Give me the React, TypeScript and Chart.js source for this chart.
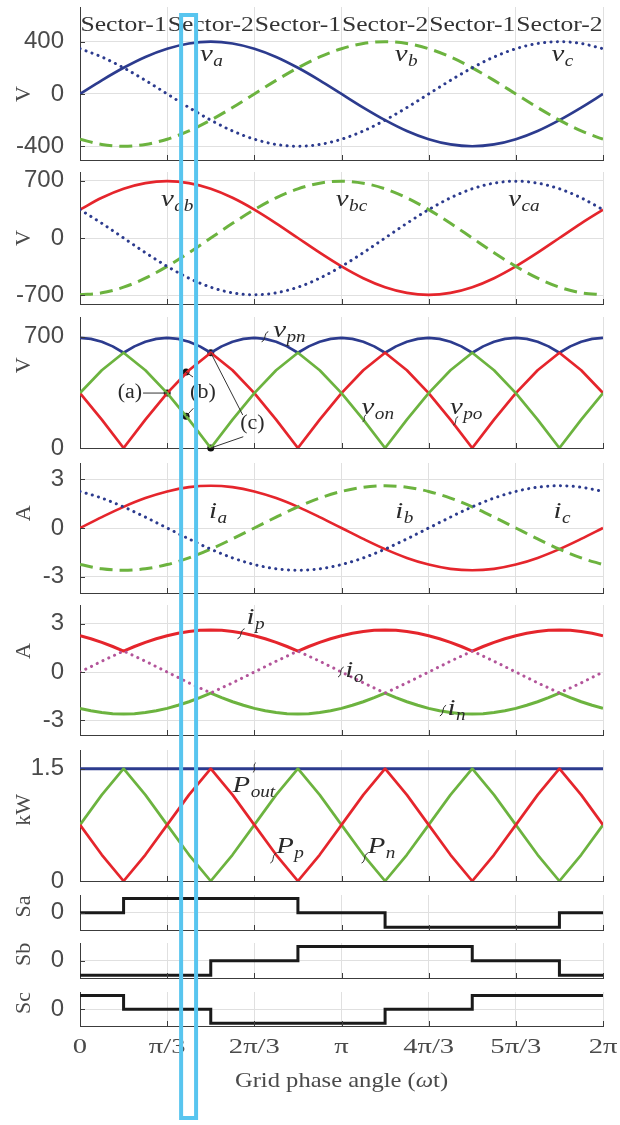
import React, { useEffect, useRef } from 'react';
import { Chart, registerables } from 'chart.js';

Chart.register(...registerables);

// ---------- shared x axis: grid phase angle in degrees, read every 15° ----------
const angleDeg = [0, 15, 30, 45, 60, 75, 90, 105, 120, 135, 150, 165, 180, 195, 210, 225, 240, 255, 270, 285, 300, 315, 330, 345, 360];
// finer reading (every 7.5°) for the rippled envelopes
const angleFine = [0, 7.5, 15, 22.5, 30, 37.5, 45, 52.5, 60, 67.5, 75, 82.5, 90, 97.5, 105, 112.5, 120, 127.5, 135, 142.5, 150, 157.5, 165, 172.5, 180, 187.5, 195, 202.5, 210, 217.5, 225, 232.5, 240, 247.5, 255, 262.5, 270, 277.5, 285, 292.5, 300, 307.5, 315, 322.5, 330, 337.5, 345, 352.5, 360];
const xTickValues = [0, 60, 120, 180, 240, 300, 360];
const xTickLabels = ['0', 'π/3', '2π/3', 'π', '4π/3', '5π/3', '2π'];
const sectorLabels = ['Sector-1', 'Sector-2', 'Sector-1', 'Sector-2', 'Sector-1', 'Sector-2'];
const sectorCenters = [30, 90, 150, 210, 270, 330];

// ---------- phase voltages (V) ----------
const va = [0, 104, 200, 283, 346, 386, 400, 386, 346, 283, 200, 104, 0, -104, -200, -283, -346, -386, -400, -386, -346, -283, -200, -104, 0];
const vb = [-346, -386, -400, -386, -346, -283, -200, -104, 0, 104, 200, 283, 346, 386, 400, 386, 346, 283, 200, 104, 0, -104, -200, -283, -346];
const vc = [346, 283, 200, 104, 0, -104, -200, -283, -346, -386, -400, -386, -346, -283, -200, -104, 0, 104, 200, 283, 346, 386, 400, 386, 346];

// ---------- line voltages (V) ----------
const vab = [346, 490, 600, 669, 693, 669, 600, 490, 346, 179, 0, -179, -346, -490, -600, -669, -693, -669, -600, -490, -346, -179, 0, 179, 346];
const vbc = [-693, -669, -600, -490, -346, -179, 0, 179, 346, 490, 600, 669, 693, 669, 600, 490, 346, 179, 0, -179, -346, -490, -600, -669, -693];
const vca = [346, 179, 0, -179, -346, -490, -600, -669, -693, -669, -600, -490, -346, -179, 0, 179, 346, 490, 600, 669, 693, 669, 600, 490, 346];

// ---------- DC-link voltages (V) ----------
const vpn = [693, 687, 669, 640, 600, 640, 669, 687, 693, 687, 669, 640, 600, 640, 669, 687, 693, 687, 669, 640, 600, 640, 669, 687, 693, 687, 669, 640, 600, 640, 669, 687, 693, 687, 669, 640, 600, 640, 669, 687, 693, 687, 669, 640, 600, 640, 669, 687, 693];
const vpo = [346, 179, 0, 179, 346, 490, 600, 490, 346, 179, 0, 179, 346, 490, 600, 490, 346, 179, 0, 179, 346, 490, 600, 490, 346];
const von = [346, 490, 600, 490, 346, 179, 0, 179, 346, 490, 600, 490, 346, 179, 0, 179, 346, 490, 600, 490, 346, 179, 0, 179, 346];
// operating points (a), (b), (c)
const opAngles = [60, 73, 73, 90, 90];
const opVoltages = [346, 478, 200, 600, 0];

// ---------- grid currents (A) ----------
const ia = [0, 0.67, 1.3, 1.84, 2.25, 2.51, 2.6, 2.51, 2.25, 1.84, 1.3, 0.67, 0, -0.67, -1.3, -1.84, -2.25, -2.51, -2.6, -2.51, -2.25, -1.84, -1.3, -0.67, 0];
const ib = [-2.25, -2.51, -2.6, -2.51, -2.25, -1.84, -1.3, -0.67, 0, 0.67, 1.3, 1.84, 2.25, 2.51, 2.6, 2.51, 2.25, 1.84, 1.3, 0.67, 0, -0.67, -1.3, -1.84, -2.25];
const ic = [2.25, 1.84, 1.3, 0.67, 0, -0.67, -1.3, -1.84, -2.25, -2.51, -2.6, -2.51, -2.25, -1.84, -1.3, -0.67, 0, 0.67, 1.3, 1.84, 2.25, 2.51, 2.6, 2.51, 2.25];

// ---------- DC-side currents (A) ----------
const ip = [2.25, 2.06, 1.84, 1.58, 1.3, 1.58, 1.84, 2.06, 2.25, 2.4, 2.51, 2.58, 2.6, 2.58, 2.51, 2.4, 2.25, 2.06, 1.84, 1.58, 1.3, 1.58, 1.84, 2.06, 2.25, 2.4, 2.51, 2.58, 2.6, 2.58, 2.51, 2.4, 2.25, 2.06, 1.84, 1.58, 1.3, 1.58, 1.84, 2.06, 2.25, 2.4, 2.51, 2.58, 2.6, 2.58, 2.51, 2.4, 2.25];
const io = [0, 0.67, 1.3, 0.67, 0, -0.67, -1.3, -0.67, 0, 0.67, 1.3, 0.67, 0, -0.67, -1.3, -0.67, 0, 0.67, 1.3, 0.67, 0, -0.67, -1.3, -0.67, 0];
const iN = [-2.25, -2.4, -2.51, -2.58, -2.6, -2.58, -2.51, -2.4, -2.25, -2.06, -1.84, -1.58, -1.3, -1.58, -1.84, -2.06, -2.25, -2.4, -2.51, -2.58, -2.6, -2.58, -2.51, -2.4, -2.25, -2.06, -1.84, -1.58, -1.3, -1.58, -1.84, -2.06, -2.25, -2.4, -2.51, -2.58, -2.6, -2.58, -2.51, -2.4, -2.25, -2.06, -1.84, -1.58, -1.3, -1.58, -1.84, -2.06, -2.25];

// ---------- powers (kW) ----------
const pOut = [1.5, 1.5, 1.5, 1.5, 1.5, 1.5, 1.5, 1.5, 1.5, 1.5, 1.5, 1.5, 1.5, 1.5, 1.5, 1.5, 1.5, 1.5, 1.5, 1.5, 1.5, 1.5, 1.5, 1.5, 1.5];
const pP = [0.75, 0.35, 0, 0.35, 0.75, 1.15, 1.5, 1.15, 0.75, 0.35, 0, 0.35, 0.75, 1.15, 1.5, 1.15, 0.75, 0.35, 0, 0.35, 0.75, 1.15, 1.5, 1.15, 0.75];
const pN = [0.75, 1.15, 1.5, 1.15, 0.75, 0.35, 0, 0.35, 0.75, 1.15, 1.5, 1.15, 0.75, 0.35, 0, 0.35, 0.75, 1.15, 1.5, 1.15, 0.75, 0.35, 0, 0.35, 0.75];

// ---------- switching states ----------
const saAngles = [0, 30, 150, 210, 330, 360];
const saStates = [0, 1, 0, -1, 0, 0];
const sbAngles = [0, 90, 150, 270, 330, 360];
const sbStates = [-1, 0, 1, 0, -1, -1];
const scAngles = [0, 30, 90, 210, 270, 360];
const scStates = [1, 0, -1, 0, 1, 1];

// highlighted interval (deg)
const highlightSpan = [69.6, 79.9];

// ---------- styles ----------
const SERIF = '"Liberation Serif", "Times New Roman", serif';
const SANS = '"Liberation Sans", Arial, sans-serif';
const BLUE = '#2c3b8e';
const GREEN = '#6cb33f';
const RED = '#e5252c';
const PINK = '#b3559a';
const BLACK = '#1a1a1a';
const AXIS = '#3c3c3c';
const GRID = '#e0e0e0';
const TEXT = '#4a4a4a';
const LABEL = '#2a2a2a';
const CYAN = '#58c5ef';

const W = 620;
const H = 1125;
const PLOT_LEFT = 80;
const PLOT_RIGHT = 603;

function pts(xs: number[], ys: number[]) {
  return xs.map((x, i) => ({ x, y: ys[i] }));
}

// smooth = true for sinusoidal waveforms, false for waveforms with sharp corners
function lineDs(data: any[], color: string, style: 'solid' | 'dash' | 'dot', width = 2.7, smooth = false) {
  return {
    data,
    borderColor: color,
    borderWidth: style === 'dot' ? 3 : width,
    pointRadius: 0,
    tension: 0,
    cubicInterpolationMode: smooth ? 'monotone' : 'default',
    fill: false,
    borderDash: style === 'dash' ? [13, 7] : style === 'dot' ? [0.1, 6.3] : [],
    borderCapStyle: style === 'dot' ? 'round' : 'butt',
    borderJoinStyle: 'round',
  };
}

function stepDs(xs: number[], ys: number[]) {
  return {
    data: pts(xs, ys),
    borderColor: BLACK,
    borderWidth: 3,
    pointRadius: 0,
    stepped: 'before',
    fill: false,
  };
}

function sText(ctx: CanvasRenderingContext2D, text: string, x: number, y: number, font: string, color: string,
  align: 'left' | 'center' | 'right', sx = 1, baseline: CanvasTextBaseline = 'alphabetic') {
  ctx.save();
  ctx.font = font;
  ctx.fillStyle = color;
  ctx.textBaseline = baseline;
  ctx.textAlign = 'left';
  const w = ctx.measureText(text).width * sx;
  const left = align === 'center' ? x - w / 2 : align === 'right' ? x - w : x;
  ctx.translate(left, y);
  ctx.scale(sx, 1);
  ctx.fillText(text, 0, 0);
  ctx.restore();
  return w;
}

function mathText(ctx: CanvasRenderingContext2D, x: number, y: number, base: string, sub: string) {
  const w = sText(ctx, base, x, y, `italic 24px ${SERIF}`, LABEL, 'left', 1.2);
  sText(ctx, sub, x + w + 0.5, y + 5, `italic 16px ${SERIF}`, LABEL, 'left', 1.2);
}

function squiggle(ctx: CanvasRenderingContext2D, x0: number, y0: number, x1: number, y1: number) {
  const dx = x1 - x0;
  const dy = y1 - y0;
  const len = Math.hypot(dx, dy) || 1;
  const nx = (-dy / len) * 3;
  const ny = (dx / len) * 3;
  ctx.save();
  ctx.strokeStyle = LABEL;
  ctx.lineWidth = 1;
  ctx.beginPath();
  ctx.moveTo(x0, y0);
  ctx.bezierCurveTo(x0 + dx * 0.33 + nx, y0 + dy * 0.33 + ny, x0 + dx * 0.66 - nx, y0 + dy * 0.66 - ny, x1, y1);
  ctx.stroke();
  ctx.restore();
}

type Lbl = { base: string; sub: string; x: number; y: number };
type PanelCfg = {
  top: number; bottom: number; min: number; max: number;
  ticks: number[]; tickText: string[];
  title: string; titleValue: number;
  datasets: any[];
  labels?: Lbl[];
  squiggles?: number[][];
  extra?: (ctx: CanvasRenderingContext2D, X: (v: number) => number, Y: (v: number) => number) => void;
};

// annotation texts of panel 3
const markerNotes = [
  { text: '(a)', x: 34.4, y: 346 },
  { text: '(b)', x: 84.6, y: 346 },
  { text: '(c)', x: 118.7, y: 155 },
];
const markerLeaders = [
  [60, 346, 43.4, 346],
  [73, 478, 77.8, 447],
  [73, 200, 78, 250],
  [90, 600, 112, 208],
  [90, 0, 112.4, 71],
];

const PANELS: PanelCfg[] = [
  {
    top: 7, bottom: 160, min: -505, max: 665, ticks: [-400, 0, 400], tickText: ['-400', '0', '400'],
    title: 'V', titleValue: 0,
    datasets: [
      lineDs(pts(angleDeg, vc), BLUE, 'dot', 3, true),
      lineDs(pts(angleDeg, vb), GREEN, 'dash', 3, true),
      lineDs(pts(angleDeg, va), BLUE, 'solid', 2.7, true),
    ],
    labels: [
      { base: 'v', sub: 'a', x: 82.6, y: 249 },
      { base: 'v', sub: 'b', x: 216.7, y: 249 },
      { base: 'v', sub: 'c', x: 324.6, y: 249 },
    ],
  },
  {
    top: 172, bottom: 304, min: -805, max: 805, ticks: [-700, 0, 700], tickText: ['-700', '0', '700'],
    title: 'V', titleValue: 0,
    datasets: [
      lineDs(pts(angleDeg, vca), BLUE, 'dot', 3, true),
      lineDs(pts(angleDeg, vbc), GREEN, 'dash', 3, true),
      lineDs(pts(angleDeg, vab), RED, 'solid', 2.7, true),
    ],
    labels: [
      { base: 'v', sub: 'ab', x: 55.7, y: 396 },
      { base: 'v', sub: 'bc', x: 176.1, y: 396 },
      { base: 'v', sub: 'ca', x: 294.8, y: 396 },
    ],
  },
  {
    top: 317, bottom: 448, min: 0, max: 825, ticks: [0, 700], tickText: ['0', '700'],
    title: 'V', titleValue: 520,
    datasets: [
      lineDs(pts(angleDeg, von), GREEN, 'solid'),
      lineDs(pts(angleDeg, vpo), RED, 'solid'),
      lineDs(pts(angleFine, vpn), BLUE, 'solid'),
      {
        data: pts(opAngles, opVoltages), showLine: false, pointRadius: 3.5, pointBackgroundColor: '#111',
        pointBorderWidth: 0, borderColor: '#111', clip: false,
      },
    ],
    labels: [
      { base: 'v', sub: 'pn', x: 133, y: 702 },
      { base: 'v', sub: 'on', x: 193.8, y: 211 },
      { base: 'v', sub: 'po', x: 254.6, y: 211 },
    ],
    squiggles: [[125, 669, 129.6, 733], [194.5, 166, 197, 208], [256.9, 145, 260.3, 197]],
    extra: (ctx, X, Y) => {
      ctx.save();
      ctx.strokeStyle = '#333';
      ctx.lineWidth = 1;
      ctx.beginPath();
      markerLeaders.forEach((l) => {
        ctx.moveTo(X(l[0]), Y(l[1]));
        ctx.lineTo(X(l[2]), Y(l[3]));
      });
      ctx.stroke();
      ctx.restore();
      markerNotes.forEach((n) => sText(ctx, n.text, X(n.x), Y(n.y), `20px ${SERIF}`, LABEL, 'center', 1.1, 'middle'));
    },
  },
  {
    top: 463, bottom: 593, min: -4, max: 4, ticks: [-3, 0, 3], tickText: ['-3', '0', '3'],
    title: 'A', titleValue: 0.9,
    datasets: [
      lineDs(pts(angleDeg, ic), BLUE, 'dot', 3, true),
      lineDs(pts(angleDeg, ib), GREEN, 'dash', 3, true),
      lineDs(pts(angleDeg, ia), RED, 'solid', 2.7, true),
    ],
    labels: [
      { base: 'i', sub: 'a', x: 88.8, y: 0.6 },
      { base: 'i', sub: 'b', x: 217, y: 0.6 },
      { base: 'i', sub: 'c', x: 326, y: 0.6 },
    ],
  },
  {
    top: 605, bottom: 735, min: -3.9, max: 4.15, ticks: [-3, 0, 3], tickText: ['-3', '0', '3'],
    title: 'A', titleValue: 1.3,
    datasets: [
      lineDs(pts(angleDeg, io), PINK, 'dot'),
      lineDs(pts(angleFine, iN), GREEN, 'solid', 3),
      lineDs(pts(angleFine, ip), RED, 'solid', 3),
    ],
    labels: [
      { base: 'i', sub: 'p', x: 114.6, y: 3.0 },
      { base: 'i', sub: 'o', x: 182.5, y: -0.3 },
      { base: 'i', sub: 'n', x: 253, y: -2.64 },
    ],
    squiggles: [[108.4, 2.06, 113.3, 2.68], [177.6, -0.31, 181.5, 0.31], [247.7, -2.72, 252, -2.06]],
  },
  {
    top: 750, bottom: 881, min: 0, max: 1.75, ticks: [0, 1.5], tickText: ['0', '1.5'],
    title: 'kW', titleValue: 0.95,
    datasets: [
      lineDs(pts(angleDeg, pP), RED, 'solid'),
      lineDs(pts(angleDeg, pN), GREEN, 'solid'),
      lineDs(pts(angleDeg, pOut), BLUE, 'solid', 3),
    ],
    labels: [
      { base: 'P', sub: 'out', x: 105, y: 1.19 },
      { base: 'P', sub: 'p', x: 135.1, y: 0.374 },
      { base: 'P', sub: 'n', x: 198, y: 0.374 },
    ],
    squiggles: [[119, 1.45, 121, 1.58], [131, 0.24, 135, 0.37], [193.8, 0.24, 198, 0.37]],
  },
  {
    top: 895, bottom: 930, min: -1.2, max: 1.25, ticks: [0], tickText: ['0'],
    title: 'Sa', titleValue: 0.45,
    datasets: [stepDs(saAngles, saStates)],
  },
  {
    top: 943, bottom: 978, min: -1.2, max: 1.25, ticks: [0], tickText: ['0'],
    title: 'Sb', titleValue: 0.45,
    datasets: [stepDs(sbAngles, sbStates)],
  },
  {
    top: 992, bottom: 1026, min: -1.2, max: 1.25, ticks: [0], tickText: ['0'],
    title: 'Sc', titleValue: 0.45,
    datasets: [stepDs(scAngles, scStates)],
  },
];

function geom(p: PanelCfg, i: number) {
  const last = i === PANELS.length - 1;
  if (last) return { top: 0, h: H, padTop: p.top, padBottom: H - p.bottom };
  const padTop = Math.min(12, p.top);
  const padBottom = 12;
  return { top: p.top - padTop, h: padTop + (p.bottom - p.top) + padBottom, padTop, padBottom };
}

function decorPlugin(p: PanelCfg, i: number) {
  const last = i === PANELS.length - 1;
  return {
    id: 'decor' + i,
    afterDraw(chart: any) {
      const ctx: CanvasRenderingContext2D = chart.ctx;
      const xs = chart.scales.x;
      const ys = chart.scales.y;
      const a = chart.chartArea;
      const X = (v: number) => xs.getPixelForValue(v);
      const Y = (v: number) => ys.getPixelForValue(v);
      ctx.save();
      // inward tick marks
      ctx.strokeStyle = AXIS;
      ctx.lineWidth = 1;
      ctx.beginPath();
      xTickValues.forEach((v) => {
        if (v === 0) return;
        const px = Math.round(X(v)) + 0.5;
        ctx.moveTo(px, a.bottom);
        ctx.lineTo(px, a.bottom - 5);
      });
      p.ticks.forEach((v) => {
        const py = Math.round(Y(v)) + 0.5;
        ctx.moveTo(a.left, py);
        ctx.lineTo(a.left + 5, py);
      });
      ctx.stroke();
      // y tick labels
      p.ticks.forEach((v, k) => sText(ctx, p.tickText[k], 64, Y(v), `24px ${SANS}`, TEXT, 'right', 1, 'middle'));
      // y title
      ctx.save();
      ctx.translate(24, Y(p.titleValue));
      ctx.rotate(-Math.PI / 2);
      sText(ctx, p.title, 0, 0, `22px ${SERIF}`, TEXT, 'center', 1, 'middle');
      ctx.restore();
      // curve labels
      (p.labels || []).forEach((l) => mathText(ctx, X(l.x), Y(l.y), l.base, l.sub));
      (p.squiggles || []).forEach((s) => squiggle(ctx, X(s[0]), Y(s[1]), X(s[2]), Y(s[3])));
      if (p.extra) p.extra(ctx, X, Y);
      if (i === 0) {
        sectorLabels.forEach((s, k) => sText(ctx, s, X(sectorCenters[k]), Y(480), `20px ${SERIF}`, '#333', 'center', 1.28));
      }
      if (last) {
        xTickValues.forEach((v, k) => sText(ctx, xTickLabels[k], X(v), 1047, `22px ${SERIF}`, TEXT, 'center', 1.3, 'middle'));
        // axis title: "Grid phase angle (" + italic ω + "t)"
        const f1 = `21px ${SERIF}`;
        const f2 = `italic 21px ${SERIF}`;
        const sx = 1.17;
        ctx.font = f1;
        const w1 = ctx.measureText('Grid phase angle (').width * sx;
        const w3 = ctx.measureText('t)').width * sx;
        ctx.font = f2;
        const w2 = ctx.measureText('ω').width * sx;
        let x0 = X(180) - (w1 + w2 + w3) / 2;
        x0 += sText(ctx, 'Grid phase angle (', x0, 1081, f1, TEXT, 'left', sx, 'middle');
        x0 += sText(ctx, 'ω', x0, 1081, f2, TEXT, 'left', sx, 'middle');
        sText(ctx, 't)', x0, 1081, f1, TEXT, 'left', sx, 'middle');
        // highlight box across all panels
        ctx.strokeStyle = CYAN;
        ctx.lineWidth = 4;
        const xl = X(highlightSpan[0]);
        const xr = X(highlightSpan[1]);
        ctx.strokeRect(xl, 15, xr - xl, 1103);
      }
      ctx.restore();
    },
  };
}

function buildConfig(p: PanelCfg, i: number): any {
  const g = geom(p, i);
  return {
    type: 'line',
    data: { datasets: p.datasets },
    options: {
      responsive: false,
      animation: false,
      devicePixelRatio: 1,
      events: [],
      layout: { padding: { top: g.padTop, right: W - PLOT_RIGHT, left: 0, bottom: 0 }, autoPadding: false },
      plugins: { legend: { display: false }, tooltip: { enabled: false } },
      scales: {
        x: {
          type: 'linear', min: 0, max: 360,
          ticks: { display: false, stepSize: 60 },
          grid: { color: GRID, lineWidth: 1, drawTicks: false },
          border: { display: true, color: AXIS, width: 1 },
          afterFit: (s: any) => { s.height = g.padBottom; },
        },
        y: {
          type: 'linear', min: p.min, max: p.max,
          ticks: { display: false },
          afterBuildTicks: (s: any) => { s.ticks = p.ticks.map((v) => ({ value: v })); },
          grid: { color: GRID, lineWidth: 1, drawTicks: false },
          border: { display: true, color: AXIS, width: 1 },
          afterFit: (s: any) => { s.width = PLOT_LEFT; },
        },
      },
    },
    plugins: [decorPlugin(p, i)],
  };
}

export default function App() {
  const refs = useRef<(HTMLCanvasElement | null)[]>([]);
  useEffect(() => {
    const charts = PANELS.map((p, i) => new Chart(refs.current[i] as HTMLCanvasElement, buildConfig(p, i)));
    return () => charts.forEach((c) => c.destroy());
  }, []);
  return (
    <div style={{ position: 'absolute', left: 0, top: 0, width: W, height: H, background: '#fff' }}>
      {PANELS.map((p, i) => {
        const g = geom(p, i);
        return (
          <canvas
            key={i}
            ref={(el) => { refs.current[i] = el; }}
            width={W}
            height={g.h}
            style={{ position: 'absolute', left: 0, top: g.top, width: W, height: g.h }}
          />
        );
      })}
    </div>
  );
}
